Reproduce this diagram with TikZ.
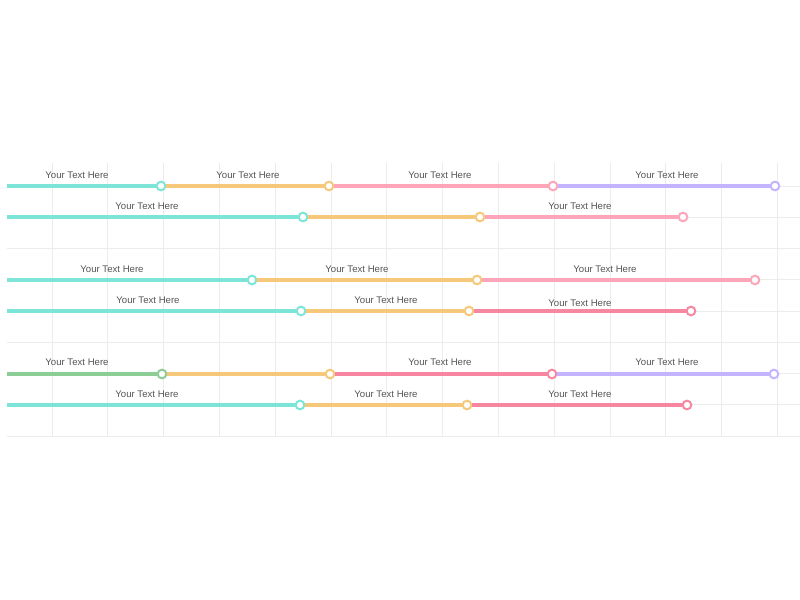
\documentclass[tikz,border=0pt]{standalone}
\usepackage{fontspec}
\setmainfont{Liberation Sans}
\definecolor{gridc}{RGB}{236,236,236}
\definecolor{cyanL}{RGB}{125,228,216}
\definecolor{orangeL}{RGB}{245,200,122}
\definecolor{pinkL}{RGB}{255,165,185}
\definecolor{pinkD}{RGB}{247,135,160}
\definecolor{lavL}{RGB}{196,180,255}
\definecolor{greenL}{RGB}{140,205,150}
\definecolor{txt}{RGB}{85,85,85}
\tikzset{
  x=0.75pt, y=-0.75pt,
  gridline/.style={draw=gridc, line width=0.75pt},
  seg/.style={line width=2.3pt},
  dot/.style={circle, draw=#1, fill=white, line width=1.5pt, minimum size=6.5pt, inner sep=0pt},
  lab/.style={font=\fontsize{7.2}{8}\selectfont, text=txt, inner sep=0pt}
}
\begin{document}
\begin{tikzpicture}
\useasboundingbox (0,0) rectangle (800,600);
\fill[white] (0,0) rectangle (800,600);
% grid
\foreach \k in {0,...,13} \draw[gridline] ({52+55.8*\k},163) -- ({52+55.8*\k},436);
\foreach \k in {0,...,8} \draw[gridline] (7,{186+31.25*\k}) -- (800,{186+31.25*\k});

% Row 1
\coordinate (s1) at (7,186);
\node[dot=cyanL] (a1) at (161,186) {};
\node[dot=orangeL] (b1) at (329,186) {};
\node[dot=pinkL] (c1) at (553,186) {};
\node[dot=lavL] (d1) at (775,186) {};
\draw[seg,cyanL] (s1) -- (a1);
\draw[seg,orangeL] (a1) -- (b1);
\draw[seg,pinkL] (b1) -- (c1);
\draw[seg,lavL] (c1) -- (d1);
\node[lab] (l1a) at (77,175) {Your Text Here};
\node[lab] (l1b) at (248,175) {Your Text Here};
\node[lab] (l1c) at (440,175) {Your Text Here};
\node[lab] (l1d) at (667,175) {Your Text Here};

% Row 2
\coordinate (s2) at (7,217);
\node[dot=cyanL] (a2) at (303,217) {};
\node[dot=orangeL] (b2) at (480,217) {};
\node[dot=pinkL] (c2) at (683,217) {};
\draw[seg,cyanL] (s2) -- (a2);
\draw[seg,orangeL] (a2) -- (b2);
\draw[seg,pinkL] (b2) -- (c2);
\node[lab] (l2a) at (147,206) {Your Text Here};
\node[lab] (l2c) at (580,206) {Your Text Here};

% Row 3
\coordinate (s3) at (7,280);
\node[dot=cyanL] (a3) at (252,280) {};
\node[dot=orangeL] (b3) at (477,280) {};
\node[dot=pinkL] (c3) at (755,280) {};
\draw[seg,cyanL] (s3) -- (a3);
\draw[seg,orangeL] (a3) -- (b3);
\draw[seg,pinkL] (b3) -- (c3);
\node[lab] (l3a) at (112,269) {Your Text Here};
\node[lab] (l3b) at (357,269) {Your Text Here};
\node[lab] (l3c) at (605,269) {Your Text Here};

% Row 4
\coordinate (s4) at (7,311);
\node[dot=cyanL] (a4) at (301,311) {};
\node[dot=orangeL] (b4) at (469,311) {};
\node[dot=pinkD] (c4) at (691,311) {};
\draw[seg,cyanL] (s4) -- (a4);
\draw[seg,orangeL] (a4) -- (b4);
\draw[seg,pinkD] (b4) -- (c4);
\node[lab] (l4a) at (148,300) {Your Text Here};
\node[lab] (l4b) at (386,300) {Your Text Here};
\node[lab] (l4c) at (580,303) {Your Text Here};

% Row 5
\coordinate (s5) at (7,374);
\node[dot=greenL] (a5) at (162,374) {};
\node[dot=orangeL] (b5) at (330,374) {};
\node[dot=pinkD] (c5) at (552,374) {};
\node[dot=lavL] (d5) at (774,374) {};
\draw[seg,greenL] (s5) -- (a5);
\draw[seg,orangeL] (a5) -- (b5);
\draw[seg,pinkD] (b5) -- (c5);
\draw[seg,lavL] (c5) -- (d5);
\node[lab] (l5a) at (77,362) {Your Text Here};
\node[lab] (l5c) at (440,362) {Your Text Here};
\node[lab] (l5d) at (667,362) {Your Text Here};

% Row 6
\coordinate (s6) at (7,405);
\node[dot=cyanL] (a6) at (300,405) {};
\node[dot=orangeL] (b6) at (467,405) {};
\node[dot=pinkD] (c6) at (687,405) {};
\draw[seg,cyanL] (s6) -- (a6);
\draw[seg,orangeL] (a6) -- (b6);
\draw[seg,pinkD] (b6) -- (c6);
\node[lab] (l6a) at (147,394) {Your Text Here};
\node[lab] (l6b) at (386,394) {Your Text Here};
\node[lab] (l6c) at (580,394) {Your Text Here};
\end{tikzpicture}
\end{document}
